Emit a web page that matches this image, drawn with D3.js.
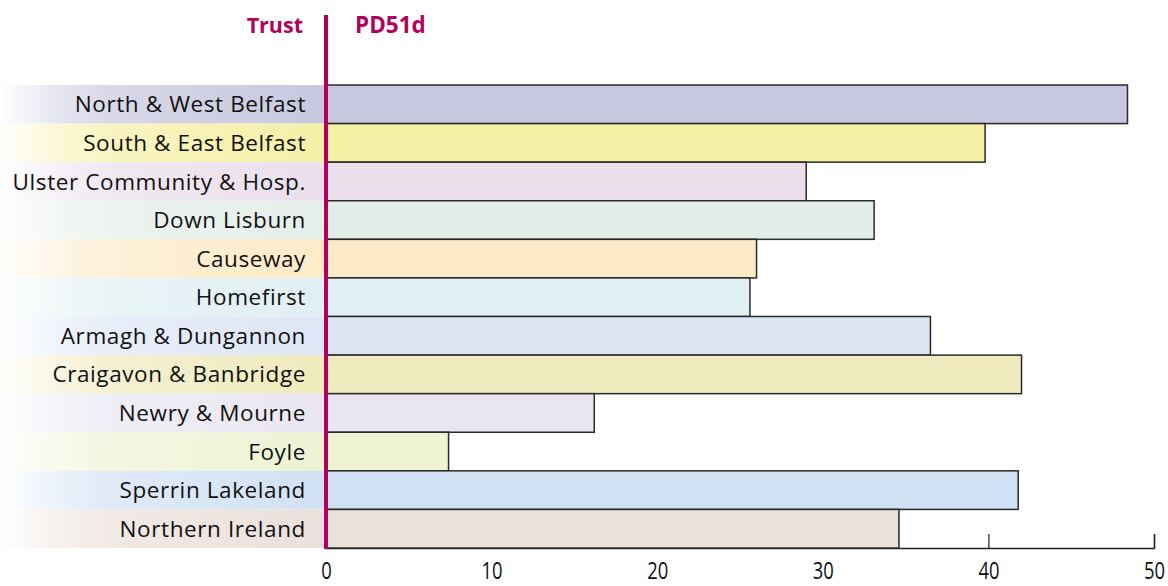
<!DOCTYPE html>
<html><head><meta charset="utf-8">
<script src="https://cdn.jsdelivr.net/npm/d3@7/dist/d3.min.js"></script>
<style>body{margin:0;background:#fff}svg{display:block}</style>
</head><body><svg id="c" width="1168" height="586"></svg>
<script>
const categories = ["North & West Belfast","South & East Belfast","Ulster Community & Hosp.","Down Lisburn","Causeway","Homefirst","Armagh & Dungannon","Craigavon & Banbridge","Newry & Mourne","Foyle","Sperrin Lakeland","Northern Ireland"];
const values = [48.4,39.8,29.0,33.1,26.0,25.6,36.5,42.0,16.2,7.4,41.8,34.6];
const colors = ["#c7c7df","#f5f0a6","#eadfeb","#e4eee9","#fdeac8","#e0eff3","#dde6f5","#efeabd","#e9e6f2","#eef3d4","#d1e1f4","#ebe0db"];
const ticks = [0,10,20,30,40,50];

const svg = d3.select("#c");
const font = "'Open Sans', sans-serif";
const x = d3.scaleLinear().domain([0,50]).range([326,1154]);
const y = d3.scaleBand().domain(categories).range([85,548]).padding(0);
const defs = svg.append("defs");
categories.forEach((c,i)=>{
  const g = defs.append("linearGradient").attr("id","g"+i).attr("x1","0").attr("x2","1").attr("y1","0").attr("y2","0");
  g.append("stop").attr("offset","0").attr("stop-color","#fff");
  g.append("stop").attr("offset","0.35").attr("stop-color",colors[i]).attr("stop-opacity",0.7);
  g.append("stop").attr("offset","1").attr("stop-color",colors[i]);
});
svg.selectAll("rect.bg").data(categories).join("rect").attr("class","bg")
  .attr("x",0).attr("width",x(0)).attr("y",d=>y(d)).attr("height",y.bandwidth())
  .attr("fill",(d,i)=>`url(#g${i})`);
// axis
const ax = svg.append("g").attr("transform","translate(0,548)")
  .call(d3.axisBottom(x).tickValues(ticks).tickSize(-14).tickPadding(0).tickFormat(d3.format("d")));
ax.select(".domain").attr("stroke","#222").attr("stroke-width",1.5);
ax.selectAll(".tick line").attr("stroke","#222").attr("stroke-width",1.2);
ax.selectAll(".tick text").attr("font-family",font).attr("font-size",23).attr("fill","#111")
  .attr("y",31).attr("dy",0).attr("transform","scale(0.8,1)");
// bars
svg.selectAll("rect.bar").data(values).join("rect").attr("class","bar")
  .attr("x",x(0)).attr("y",(d,i)=>y(categories[i])).attr("width",d=>x(d)-x(0)).attr("height",y.bandwidth())
  .attr("fill",(d,i)=>colors[i]).attr("stroke","#2a2a2a").attr("stroke-width",1.5);
// labels
svg.selectAll("text.lab").data(categories).join("text").attr("class","lab")
  .attr("x",306).attr("y",d=>y(d)+y.bandwidth()/2).attr("dy","0.36em")
  .attr("text-anchor","end").attr("font-family",font).attr("font-size",22.5)
  .attr("letter-spacing",0.6).attr("fill","#111").text(d=>d);
// magenta line
svg.append("line").attr("x1",x(0)).attr("x2",x(0)).attr("y1",15).attr("y2",549)
  .attr("stroke","#b3005a").attr("stroke-width",4);
svg.append("text").attr("x",303).attr("y",33).attr("text-anchor","end").attr("font-family",font)
  .attr("font-weight","bold").attr("font-size",21.5).attr("fill","#b3005a").text("Trust");
svg.append("text").attr("x",355).attr("y",33).attr("font-family",font)
  .attr("font-weight","bold").attr("font-size",22.5).attr("fill","#b3005a").text("PD51d");
</script></body></html>
